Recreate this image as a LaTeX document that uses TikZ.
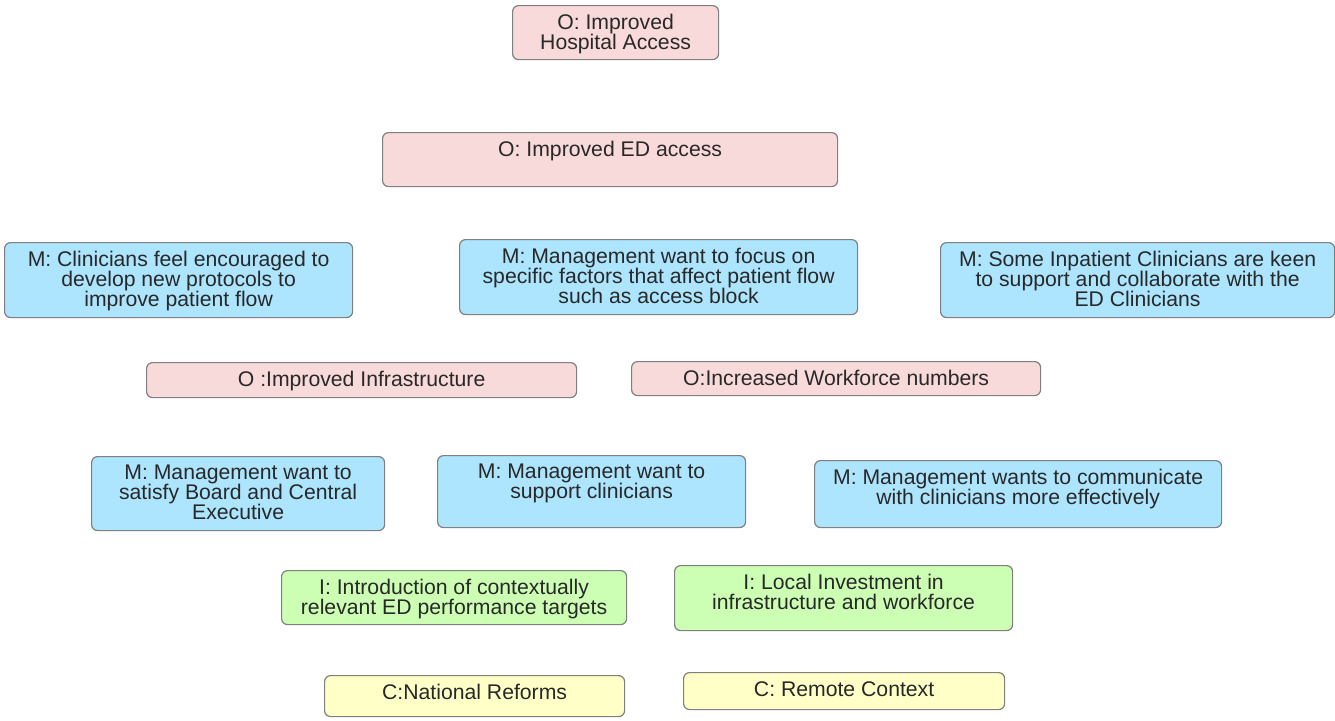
\documentclass[tikz,border=0pt]{standalone}
\usepackage{fontspec}
\setmainfont{Liberation Sans}
\definecolor{opink}{RGB}{249,218,218}
\definecolor{mblue}{RGB}{172,229,253}
\definecolor{igreen}{RGB}{204,255,180}
\definecolor{cyellow}{RGB}{255,255,200}
\definecolor{edgegray}{RGB}{128,128,128}
\definecolor{txtgray}{RGB}{40,40,40}
\tikzset{
  box/.style={draw=edgegray,line width=1.2pt,rounded corners=6pt,inner sep=0pt,anchor=north west},
  lbl/.style={anchor=north,inner sep=0pt,align=center,text=txtgray,font=\fontsize{21.2}{20}\selectfont}
}
\newcommand{\cbox}[7]{%
  \node[box,fill=#6,minimum width={(#4-#2)*1pt},minimum height={(#5-#3)*1pt}] (#1) at (#2,#3) {};
  \node[lbl] (#1t) at ([yshift=-9pt]#1.north) {#7};
}
\begin{document}
\begin{tikzpicture}[x=1pt,y=-1pt]
\useasboundingbox (0,0) rectangle (1335,720);
\cbox{hosp}{512}{5}{718}{59}{opink}{O: Improved\\Hospital Access}
\cbox{ed}{382}{132}{837}{186}{opink}{O: Improved ED access}
\cbox{clin}{4}{242}{352}{317}{mblue}{M: Clinicians feel encouraged to\\develop new protocols to\\improve patient flow}
\cbox{focus}{459}{239}{857}{314}{mblue}{M: Management want to focus on\\specific factors that affect patient flow\\such as access block}
\cbox{inpat}{940}{242}{1334}{317}{mblue}{M: Some Inpatient Clinicians are keen\\to support and collaborate with the\\ED Clinicians}
\cbox{infra}{146}{362}{576}{397}{opink}{O :Improved Infrastructure}
\cbox{work}{631}{361}{1040}{395}{opink}{O:Increased Workforce numbers}
\cbox{board}{91}{456}{384}{530}{mblue}{M: Management want to\\satisfy Board and Central\\Executive}
\cbox{supp}{437}{455}{745}{527}{mblue}{M: Management want to\\support clinicians}
\cbox{comm}{814}{460}{1221}{527}{mblue}{M: Management wants to communicate\\with clinicians more effectively}
\cbox{targ}{281}{570}{626}{624}{igreen}{I: Introduction of contextually\\relevant ED performance targets}
\cbox{invest}{674}{565}{1012}{630}{igreen}{I: Local Investment in\\infrastructure and workforce}
\cbox{natl}{324}{675}{624}{716}{cyellow}{C:National Reforms}
\cbox{remote}{683}{672}{1004}{709}{cyellow}{C: Remote Context}
\end{tikzpicture}
\end{document}
